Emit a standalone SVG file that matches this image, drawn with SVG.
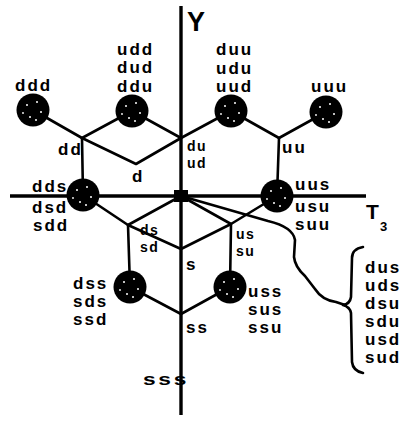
<svg xmlns="http://www.w3.org/2000/svg" width="415" height="421" viewBox="0 0 415 421">
<style>
.e{stroke:#000;stroke-width:2.6;fill:none;stroke-linecap:round;stroke-linejoin:round}
.ax{stroke:#000;stroke-width:3.4;fill:none}
.t{font-family:"Liberation Sans",Arial,sans-serif;font-weight:bold;font-size:17px;letter-spacing:2px;fill:#000}
.s2{font-size:14px;letter-spacing:1.5px}
.sp{fill:#fff}
</style>
<defs>
<g id="ball">
<circle r="16.5" fill="#000"/>
<circle class="sp" cx="-6" cy="-5" r="1"/>
<circle class="sp" cx="4" cy="-8" r="1"/>
<circle class="sp" cx="8" cy="2" r="1"/>
<circle class="sp" cx="-3" cy="7" r="1"/>
<circle class="sp" cx="3" cy="10" r="1"/>
<circle class="sp" cx="-10" cy="3" r="0.9"/>
</g>
</defs>
<rect width="415" height="421" fill="#fff"/>
<g id="axes">
<path class="ax" d="M181,6 V415"/>
<path class="ax" d="M10,196 H366"/>
<rect x="174" y="190" width="14" height="12" fill="#000"/>
<text x="187" y="31" style="font-family:'Liberation Sans',Arial,sans-serif;font-weight:bold;font-size:27px">Y</text>
<text x="366" y="219" style="font-family:'Liberation Sans',Arial,sans-serif;font-weight:bold;font-size:21px">T</text>
<text x="380" y="231" style="font-family:'Liberation Sans',Arial,sans-serif;font-weight:bold;font-size:13px">3</text>
</g>
<g id="connectors">
<path class="e" d="M33,110 L82,138 L132,111 L181,138"/>
<path class="e" d="M82,138 L136,164 L181,138 L231,111 L279,138 L326,112"/>
<path class="e" d="M279,138 L277,196"/>
<path class="e" d="M82,138 L83,195 L128,225 L181,196"/>
<path class="e" d="M128,225 L181,249 L231,224 L181,196"/>
<path class="e" d="M277,196 L231,224 L230,287"/>
<path class="e" d="M128,225 L130,287 L181,314 L230,287"/>
<path class="e" d="M181,196 L268,221 Q293,227 295,240 L294,257 Q295,267 305,276 L315,289 Q322,300 336,302 L345,305"/>
<path class="e" d="M363,247 Q352,249 352,258 L351,297 Q350,304 343,305 Q350,307 351,313 L352,362 Q353,371 363,373"/>
</g>
<g id="n-ddd"><use href="#ball" x="33" y="110"/><text class="t" x="15" y="91">ddd</text></g>
<g id="n-udd"><use href="#ball" x="132" y="111"/><text class="t" x="117" y="55">udd</text><text class="t" x="117" y="73">dud</text><text class="t" x="117" y="92">ddu</text></g>
<g id="n-duu"><use href="#ball" x="231" y="111"/><text class="t" x="216" y="55">duu</text><text class="t" x="216" y="74">udu</text><text class="t" x="216" y="92">uud</text></g>
<g id="n-uuu"><use href="#ball" x="326" y="112"/><text class="t" x="311" y="92">uuu</text></g>
<g id="n-dds"><use href="#ball" x="83" y="195"/><text class="t" x="32" y="192">dds</text><text class="t" x="32" y="213">dsd</text><text class="t" x="33" y="231">sdd</text></g>
<g id="n-uus"><use href="#ball" x="277" y="196"/><text class="t" x="295" y="190">uus</text><text class="t" x="295" y="212">usu</text><text class="t" x="295" y="230">suu</text></g>
<g id="n-dss"><use href="#ball" x="130" y="287"/><text class="t" x="73" y="289">dss</text><text class="t" x="73" y="307">sds</text><text class="t" x="73" y="325">ssd</text></g>
<g id="n-uss"><use href="#ball" x="230" y="287"/><text class="t" x="248" y="297">uss</text><text class="t" x="248" y="315">sus</text><text class="t" x="248" y="333">ssu</text></g>
<g id="labels">
<text class="t" x="58" y="155">dd</text>
<text class="t" x="132" y="182">d</text>
<text class="t s2" x="187" y="151">du</text>
<text class="t s2" x="187" y="168">ud</text>
<text class="t" x="282" y="153">uu</text>
<text class="t s2" x="140" y="235">ds</text>
<text class="t s2" x="140" y="252">sd</text>
<text class="t s2" x="236" y="239">us</text>
<text class="t s2" x="236" y="256">su</text>
<text class="t" x="186" y="270">s</text>
<text class="t" x="186" y="333">ss</text>
<text class="t" x="143" y="385" textLength="46" lengthAdjust="spacingAndGlyphs">sss</text>
<text class="t" x="365" y="273">dus</text>
<text class="t" x="365" y="291">uds</text>
<text class="t" x="365" y="309">dsu</text>
<text class="t" x="365" y="327">sdu</text>
<text class="t" x="365" y="345">usd</text>
<text class="t" x="365" y="363">sud</text>
</g>
</svg>
